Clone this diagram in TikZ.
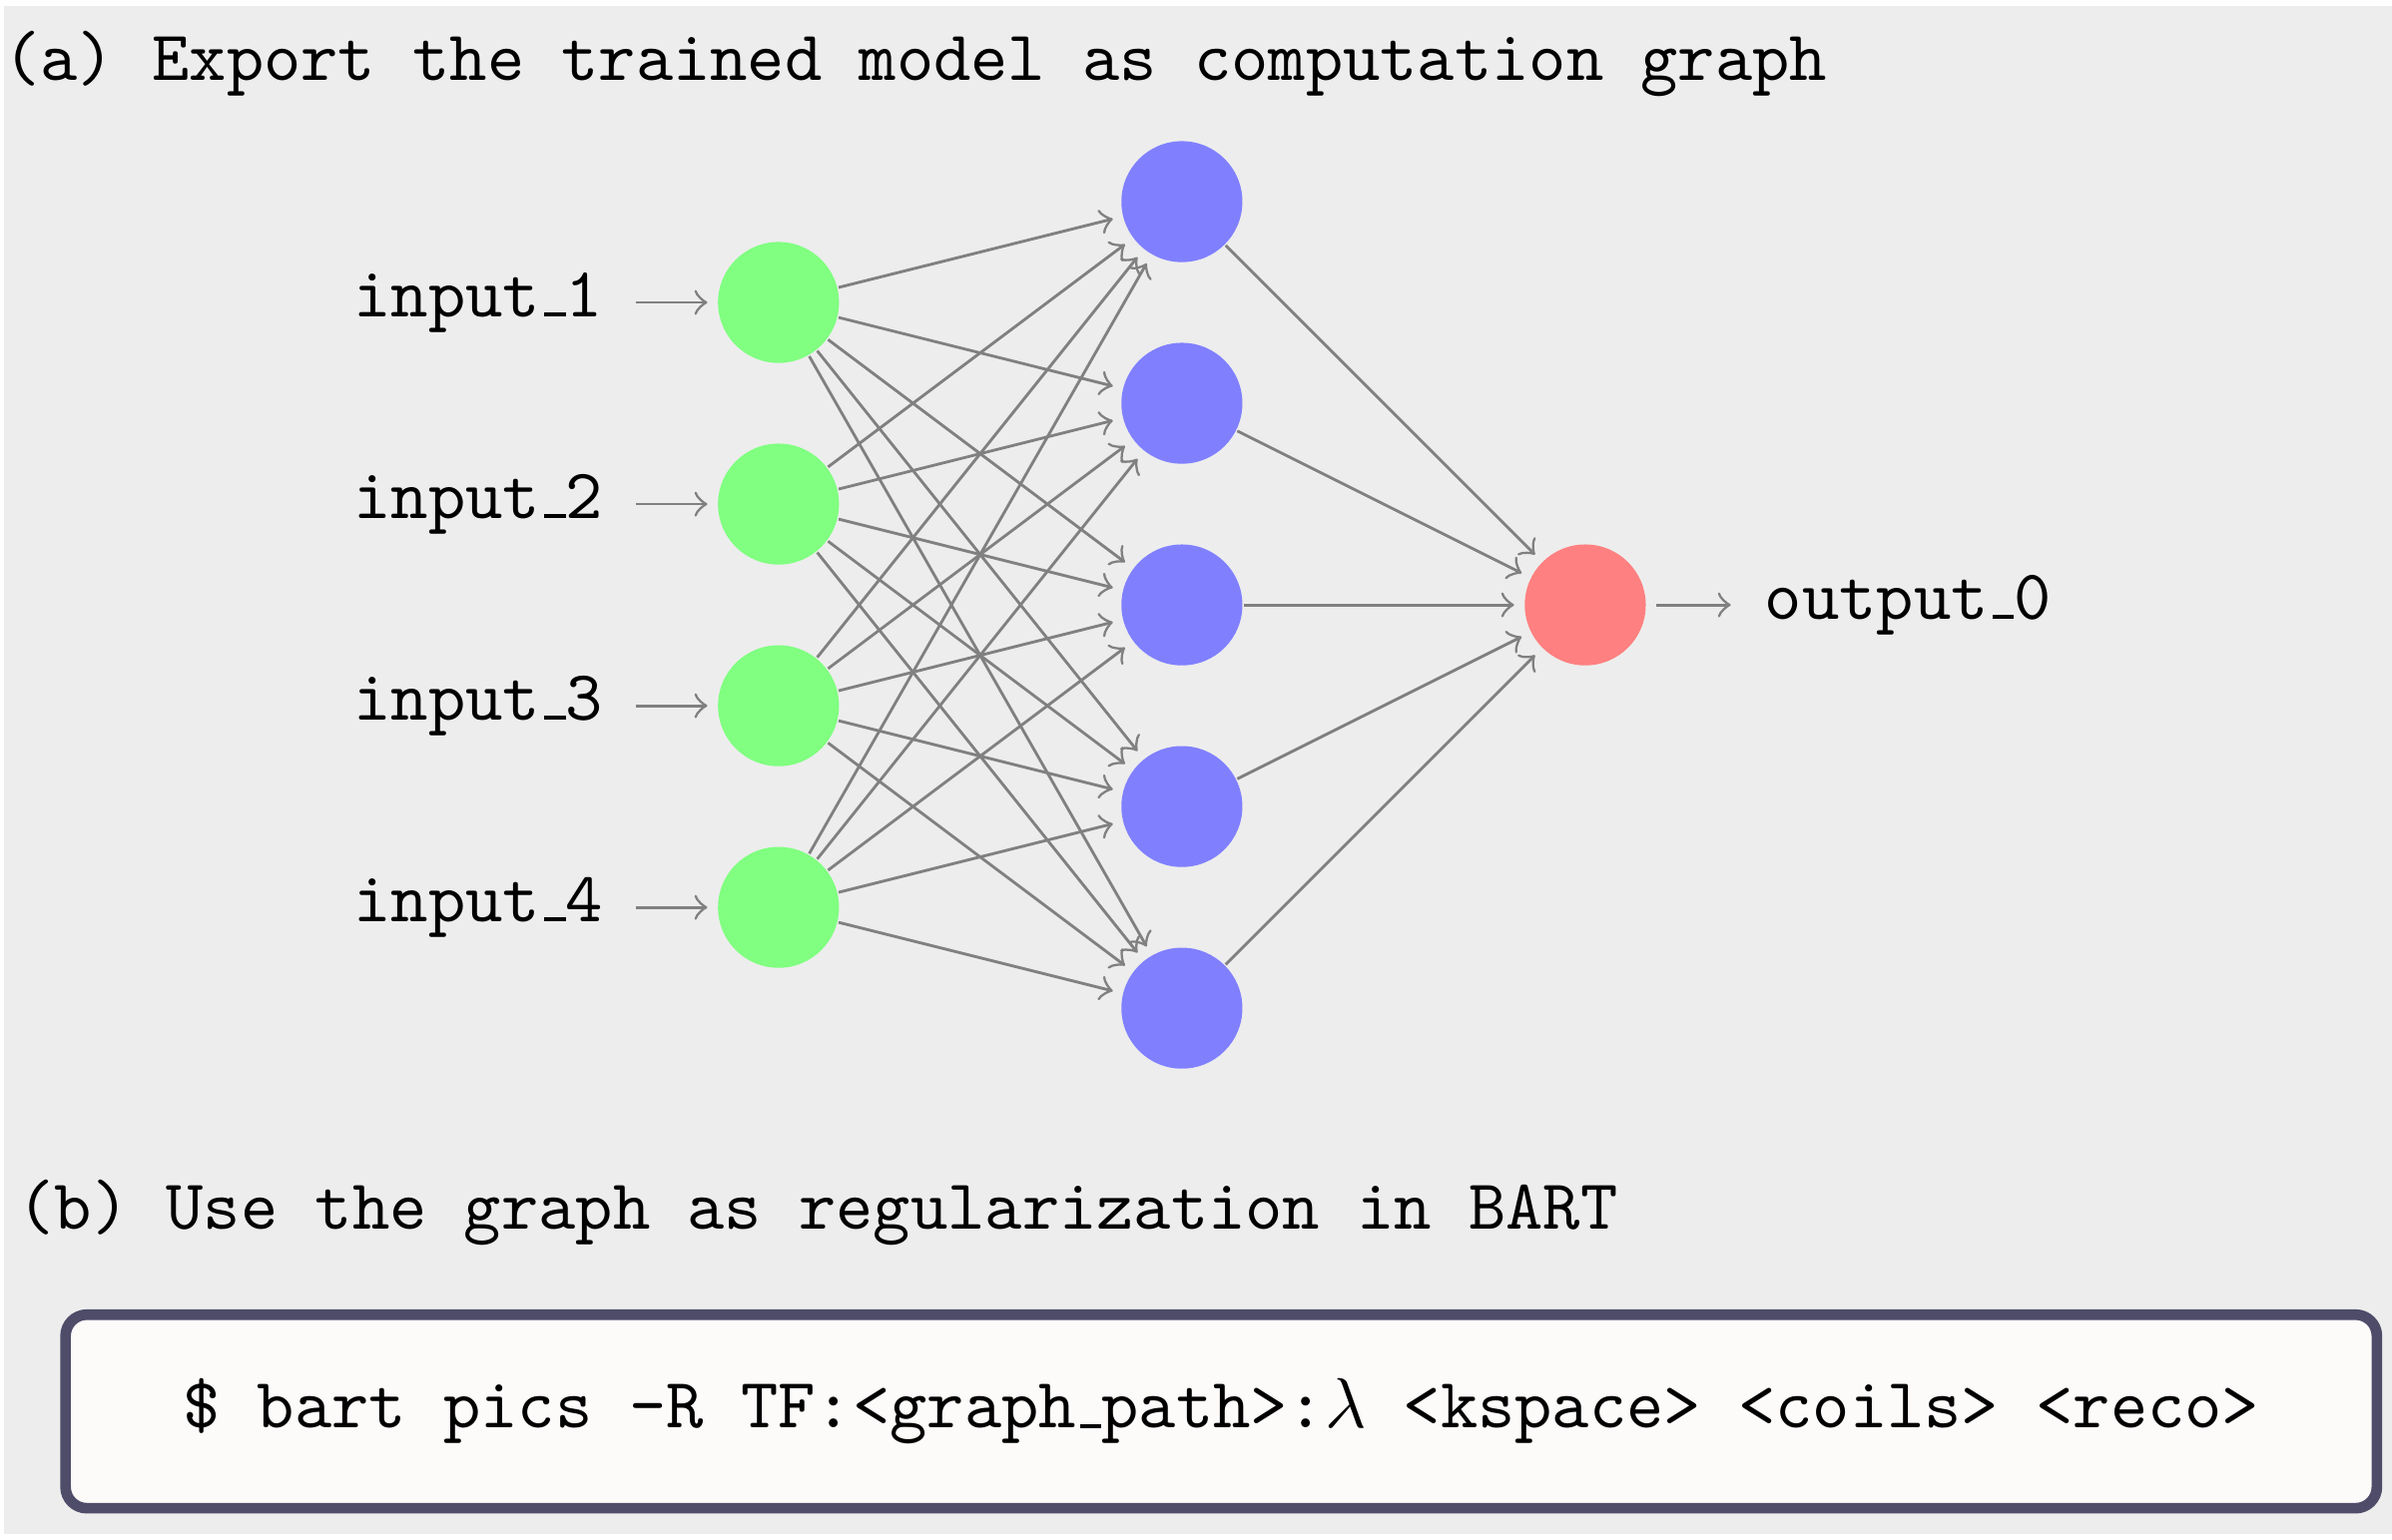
\documentclass[tikz,border=0pt]{standalone}
\usetikzlibrary{positioning}
\definecolor{inputgreen}{RGB}{128,255,128}
\definecolor{hiddenblue}{RGB}{128,128,255}
\definecolor{outputred}{RGB}{255,128,128}
\definecolor{panelgray}{RGB}{237,237,237}
\definecolor{cmdframe}{RGB}{78,76,105}
\definecolor{cmdfill}{RGB}{253,250,250}
\newcommand{\uscore}{\kern.06em\vbox{\hrule width .3em height .55pt}}

\begin{document}
\begin{tikzpicture}[
    font=\ttfamily,
    neuron/.style={circle, minimum size=0.6cm, inner sep=0pt},
    link/.style={->, color=gray, shorten >=1.3pt}
  ]
        \useasboundingbox (0,0) rectangle (11.86,-7.633);
        \fill[panelgray] (0.02,-0.03) rectangle (11.86,-7.609);
        % (a) the network
        \node[anchor=base west, inner sep=0pt] (titleA) at (0.01,-0.396) {(a) Export the trained model as computation graph};
        \node[neuron, fill=inputgreen] (in1) at (3.86,-1.5) {};
        \node[neuron, fill=inputgreen] (in2) at (3.86,-2.5) {};
        \node[neuron, fill=inputgreen] (in3) at (3.86,-3.5) {};
        \node[neuron, fill=inputgreen] (in4) at (3.86,-4.5) {};
        \node[neuron, fill=hiddenblue] (hid1) at (5.86,-1) {};
        \node[neuron, fill=hiddenblue] (hid2) at (5.86,-2) {};
        \node[neuron, fill=hiddenblue] (hid3) at (5.86,-3) {};
        \node[neuron, fill=hiddenblue] (hid4) at (5.86,-4) {};
        \node[neuron, fill=hiddenblue] (hid5) at (5.86,-5) {};
        \node[neuron, fill=outputred] (out) at (7.86,-3) {};
        \node[left=0.44cm of in1] (lab1) {input\uscore 1};
        \node[left=0.44cm of in2] (lab2) {input\uscore 2};
        \node[left=0.44cm of in3] (lab3) {input\uscore 3};
        \node[left=0.44cm of in4] (lab4) {input\uscore 4};
        \node[right=0.46cm of out] (labout) {output\uscore 0};
        \draw[link, shorten <=1.1pt] (lab1) -- (in1);
        \draw[link, shorten <=1.1pt] (lab2) -- (in2);
        \draw[link, shorten <=1.1pt] (lab3) -- (in3);
        \draw[link, shorten <=1.1pt] (lab4) -- (in4);
        \draw[link] (in1) edge (hid1) edge (hid2) edge (hid3) edge (hid4) edge (hid5);
        \draw[link] (in2) edge (hid1) edge (hid2) edge (hid3) edge (hid4) edge (hid5);
        \draw[link] (in3) edge (hid1) edge (hid2) edge (hid3) edge (hid4) edge (hid5);
        \draw[link] (in4) edge (hid1) edge (hid2) edge (hid3) edge (hid4) edge (hid5);
        \draw[link] (hid1) -- (out);
        \draw[link] (hid2) -- (out);
        \draw[link] (hid3) -- (out);
        \draw[link] (hid4) -- (out);
        \draw[link] (hid5) -- (out);
        \draw[link, shorten <=1.3pt] (out) -- (labout);
        % (b) the command
        \node[anchor=base west, inner sep=0pt] (titleB) at (0.08,-6.097) {(b) Use the graph as regularization in BART};
        \node[draw=cmdframe, line width=1.5pt, fill=cmdfill, rounded corners=3pt,
              minimum width=11.46cm, minimum height=0.96cm] (cmd) at (6.055,-7)
              {\$ bart pics -R TF:<graph\uscore path>:$\lambda$ <kspace> <coils> <reco>\hspace{.2em}};
\end{tikzpicture}
\end{document}
